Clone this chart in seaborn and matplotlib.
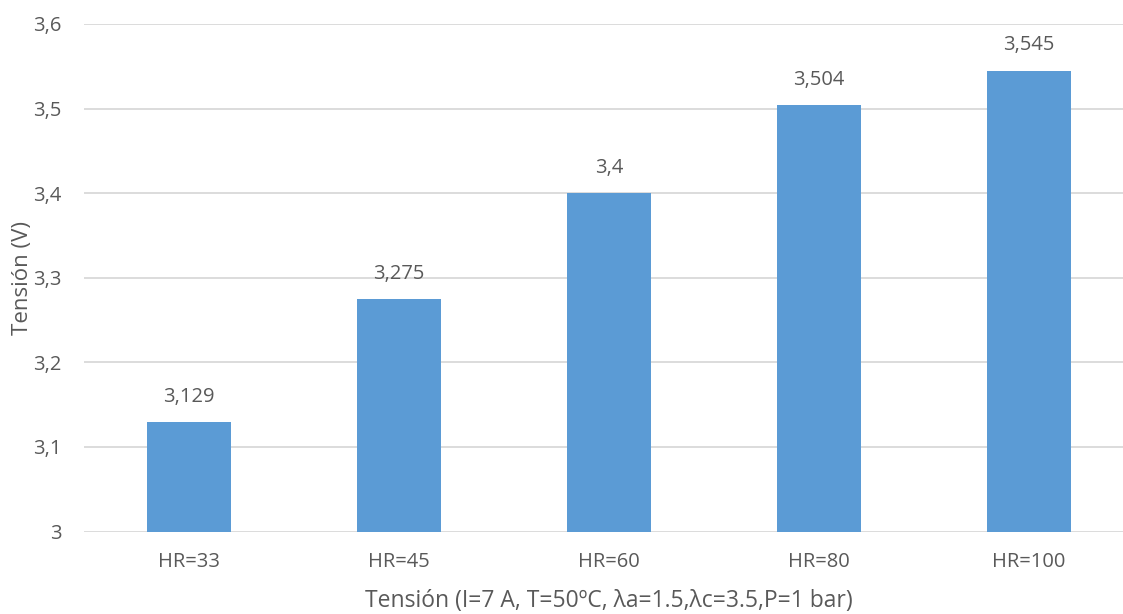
import matplotlib
matplotlib.use("Agg")
import matplotlib.pyplot as plt
import seaborn as sns
import pandas as pd

categories = ["HR=33", "HR=45", "HR=60", "HR=80", "HR=100"]
voltages = [3.129, 3.275, 3.4, 3.504, 3.545]
value_labels = ["3,129", "3,275", "3,4", "3,504", "3,545"]
y_ticks = [3.0, 3.1, 3.2, 3.3, 3.4, 3.5, 3.6]
y_tick_labels = ["3", "3,1", "3,2", "3,3", "3,4", "3,5", "3,6"]

sns.set_theme(style="white")
plt.rcParams["font.family"] = ["Open Sans", "DejaVu Sans"]

text_color = "#595959"
bar_color = "#5B9BD5"

df = pd.DataFrame({"cat": categories, "v": voltages})

fig = plt.figure(figsize=(11.23, 6.14), dpi=100)
ax = fig.add_axes([83.5 / 1123, 1 - 531.5 / 614, (1123 - 83.5) / 1123, (531.5 - 24) / 614])

sns.barplot(data=df, x="cat", y="v", color=bar_color, saturation=1, width=0.4,
            linewidth=0, ax=ax, zorder=3)

ax.set_ylim(3.0, 3.6)
ax.set_xlim(-0.5, 4.5 - 11 / 210)
ax.set_yticks(y_ticks)
ax.set_yticklabels(y_tick_labels)
ax.grid(axis="y", color="#D9D9D9", linewidth=1.3, zorder=0)
ax.grid(axis="x", visible=False)
for s in ax.spines.values():
    s.set_visible(False)
ax.tick_params(axis="both", length=0, labelsize=14.5, colors=text_color)
ax.tick_params(axis="y", pad=16)
ax.tick_params(axis="x", pad=15)

for i, (v, lab) in enumerate(zip(voltages, value_labels)):
    ax.annotate(lab, (i, v), xytext=(0, 11), textcoords="offset points",
                ha="center", va="bottom", fontsize=14.5, color=text_color)

ax.set_xlabel("Tensión (I=7 A, T=50ºC, λa=1.5,λc=3.5,P=1 bar)", fontsize=16.5, color=text_color)
ax.set_ylabel("Tensión (V)", fontsize=16, color=text_color)
ax.xaxis.set_label_coords(0.505, -0.113)
ax.yaxis.set_label_coords(-0.049, 0.5)

fig.savefig("out.png", dpi=100)
